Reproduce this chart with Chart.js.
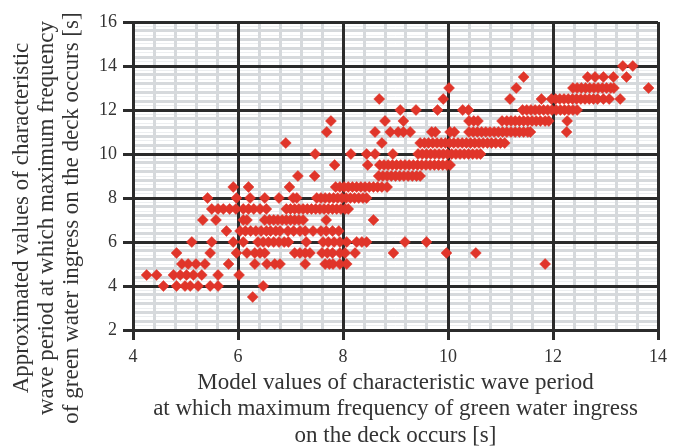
<!DOCTYPE html>
<html>
<head>
<meta charset="utf-8">
<script src="https://cdn.jsdelivr.net/npm/chart.js@4/dist/chart.umd.min.js"></script>
<style>
  html, body { margin: 0; padding: 0; background: #ffffff; }
  #wrap { width: 682px; height: 448px; position: relative; }
</style>
</head>
<body>
<div id="wrap"><canvas id="c" width="682" height="448"></canvas></div>
<script>
// ---- Data ----
// x = model value of characteristic wave period [s], grouped by approximated value (y) [s]
const approxLevels = [3.5, 4, 4.5, 5, 5.5, 6, 6.5, 7, 7.5, 8, 8.5, 9, 9.5, 10, 10.5, 11, 11.5, 12, 12.5, 13, 13.5, 14];

const modelAt3_5  = [6.28];
const modelAt4_0  = [4.58, 4.83, 4.99, 5.09, 5.24, 5.47, 5.62, 6.48];
const modelAt4_5  = [4.26, 4.45, 4.77, 4.9, 5.02, 5.15, 5.31, 5.62, 6.02];
const modelAt5_0  = [4.93, 5.05, 5.2, 5.37, 5.82, 6.32, 6.55, 6.7, 6.8, 7.28, 7.66, 7.74, 7.81, 7.94, 8.07, 11.85];
const modelAt5_5  = [4.83, 5.47, 5.97, 6.17, 6.32, 6.42, 6.51, 7.08, 7.18, 7.28, 7.37, 7.6, 7.7, 7.8, 7.94, 8.04, 8.23, 8.96, 9.97, 10.53];
const modelAt6_0  = [5.12, 5.5, 5.91, 6.1, 6.38, 6.48, 6.58, 6.68, 6.78, 6.88, 6.96, 7.3, 7.62, 7.72, 7.83, 7.94, 8.07, 8.26, 8.36, 8.45, 9.18, 9.59];
const modelAt6_5  = [5.78, 6.04, 6.14, 6.24, 6.34, 6.44, 6.54, 6.62, 6.72, 6.8, 6.95, 7.06, 7.18, 7.28, 7.43, 7.58, 7.68, 7.8, 7.92];
const modelAt7_0  = [5.33, 5.58, 6.1, 6.17, 6.51, 6.6, 6.68, 6.76, 6.84, 6.92, 7.0, 7.08, 7.16, 7.24, 7.68, 8.58];
const modelAt7_5  = [5.5, 5.62, 5.72, 5.84, 5.96, 6.1, 6.2, 6.3, 6.42, 6.54, 6.92, 7.0, 7.08, 7.16, 7.24, 7.32, 7.4, 7.48, 7.56, 7.64, 7.72, 7.8, 7.88, 7.96, 8.04, 8.1];
const modelAt8_0  = [5.42, 5.97, 6.23, 6.51, 6.78, 7.05, 7.12, 7.5, 7.58, 7.66, 7.74, 7.82, 7.9, 7.98, 8.06, 8.14, 8.22, 8.3, 8.38, 8.45];
const modelAt8_5  = [5.91, 6.2, 6.98, 7.86, 7.94, 8.02, 8.1, 8.18, 8.26, 8.34, 8.42, 8.5, 8.58, 8.66, 8.74, 8.84];
const modelAt9_0  = [7.14, 7.46, 8.68, 8.76, 8.84, 8.92, 9.0, 9.08, 9.16, 9.24, 9.32, 9.4, 9.47];
const modelAt9_5  = [7.84, 8.47, 8.7, 8.78, 8.86, 8.94, 9.02, 9.1, 9.18, 9.26, 9.34, 9.42, 9.5, 9.58, 9.66, 9.74, 9.82, 9.9, 9.98, 10.04];
const modelAt10_0 = [7.47, 8.15, 8.45, 8.61, 8.95, 9.43, 9.51, 9.59, 9.67, 9.75, 9.83, 9.91, 9.99, 10.07, 10.15, 10.23, 10.31, 10.39, 10.47, 10.55, 10.62];
const modelAt10_5 = [6.91, 8.74, 9.47, 9.55, 9.63, 9.71, 9.79, 9.87, 9.95, 10.03, 10.11, 10.19, 10.27, 10.35, 10.43, 10.51, 10.59, 10.67, 10.75, 10.83, 10.91, 11.0, 11.08];
const modelAt11_0 = [7.69, 8.61, 8.9, 9.05, 9.15, 9.28, 9.69, 9.76, 10.04, 10.12, 10.4, 10.48, 10.56, 10.64, 10.72, 10.8, 10.88, 10.96, 11.04, 11.12, 11.2, 11.28, 11.36, 11.44, 11.52, 11.57, 12.26];
const modelAt11_5 = [7.77, 8.8, 9.15, 10.4, 10.49, 10.57, 11.03, 11.12, 11.2, 11.28, 11.36, 11.44, 11.52, 11.6, 11.68, 11.76, 11.85, 11.92, 12.27];
const modelAt12_0 = [9.09, 9.39, 9.8, 10.28, 10.39, 11.42, 11.5, 11.58, 11.66, 11.74, 11.82, 11.9, 11.98, 12.06, 12.14, 12.22, 12.3, 12.38, 12.46];
const modelAt12_5 = [8.69, 9.91, 11.18, 11.78, 11.97, 12.05, 12.13, 12.21, 12.29, 12.37, 12.45, 12.53, 12.61, 12.69, 12.77, 12.85, 12.96, 13.07, 13.28];
const modelAt13_0 = [10.02, 11.3, 12.38, 12.46, 12.54, 12.62, 12.7, 12.78, 12.86, 12.94, 13.02, 13.1, 13.16, 13.82];
const modelAt13_5 = [11.44, 12.66, 12.8, 12.96, 13.15, 13.4];
const modelAt14_0 = [13.33, 13.52];

const modelByLevel = [modelAt3_5, modelAt4_0, modelAt4_5, modelAt5_0, modelAt5_5, modelAt6_0, modelAt6_5,
  modelAt7_0, modelAt7_5, modelAt8_0, modelAt8_5, modelAt9_0, modelAt9_5, modelAt10_0, modelAt10_5,
  modelAt11_0, modelAt11_5, modelAt12_0, modelAt12_5, modelAt13_0, modelAt13_5, modelAt14_0];

const xTitleLines = ['Model values of characteristic wave period',
  'at which maximum frequency of green water ingress',
  'on the deck occurs [s]'];
const yTitleLines = ['Approximated values of characteristic',
  'wave period at which maximum frequency',
  'of green water ingress on the deck occurs [s]'];

// ---- build points ----
const points = [];
approxLevels.forEach((y, i) => modelByLevel[i].forEach(x => points.push({ x: x, y: y })));

const SERIF = "'Liberation Serif', 'Times New Roman', serif";
const DARK = '#2b2b2b';
const MINOR = '#d6d9dc';
const FAINT = '#eceef0';

// places the y-axis title box (the title in the source is centred below the plot centre)
const yTitlePlacer = {
  id: 'yTitlePlacer',
  afterLayout(chart) {
    const s = chart.scales.yTitle;
    if (!s) return;
    s.left = 0; s.right = 0; s.top = 22; s.bottom = 414;
  }
};

new Chart(document.getElementById('c'), {
  type: 'scatter',
  data: {
    datasets: [{
      data: points,
      pointStyle: 'rectRot',
      pointRadius: 5.5,
      pointHoverRadius: 5.5,
      backgroundColor: '#e0352a',
      borderColor: '#e0352a',
      borderWidth: 0.5
    }]
  },
  plugins: [yTitlePlacer],
  options: {
    responsive: false,
    animation: false,
    events: [],
    layout: { padding: { left: 0, right: 24, top: 22, bottom: 0 } },
    plugins: { legend: { display: false }, tooltip: { enabled: false } },
    scales: {
      yFaint: {
        type: 'linear', axis: 'y', position: 'left', min: 2, max: 16,
        ticks: { display: false, stepSize: 0.2, maxTicksLimit: 200, autoSkip: false },
        grid: { color: FAINT, lineWidth: 1, drawTicks: false, z: -3 },
        border: { display: false },
        afterFit: s => { s.width = 0; }
      },
      xMinor: {
        type: 'linear', axis: 'x', position: 'bottom', min: 4, max: 14,
        ticks: { display: false, stepSize: 0.4, maxTicksLimit: 100, autoSkip: false },
        grid: { color: MINOR, lineWidth: 3, drawTicks: false, z: -2 },
        border: { display: false },
        afterFit: s => { s.height = 0; }
      },
      yMinor: {
        type: 'linear', axis: 'y', position: 'left', min: 2, max: 16,
        ticks: { display: false, stepSize: 0.4, maxTicksLimit: 100, autoSkip: false },
        grid: { color: MINOR, lineWidth: 3, drawTicks: false, z: -2 },
        border: { display: false },
        afterFit: s => { s.width = 0; }
      },
      yTitle: {
        type: 'linear', axis: 'y', position: 'left', min: 2, max: 16,
        ticks: { display: false },
        grid: { display: false, drawTicks: false },
        border: { display: false },
        title: {
          display: true, text: yTitleLines, color: '#333',
          font: { family: SERIF, size: 23, lineHeight: '25px' },
          padding: { top: 9.5, bottom: 0 }
        },
        afterFit: s => { s.width = 0; }
      },
      x: {
        type: 'linear', position: 'bottom', min: 4, max: 14,
        ticks: { stepSize: 2, color: '#333', font: { family: SERIF, size: 18 }, padding: 6 },
        grid: { color: DARK, lineWidth: 3, tickLength: 10, z: -1 },
        border: { display: true, color: DARK, width: 3 },
        title: {
          display: true, text: xTitleLines, color: '#333',
          font: { family: SERIF, size: 23, lineHeight: '26.5px' },
          padding: { top: 0, bottom: -1 }
        },
        afterFit: s => { s.height = 118; }
      },
      y: {
        type: 'linear', position: 'left', min: 2, max: 16,
        ticks: { stepSize: 2, color: '#333', font: { family: SERIF, size: 18 }, padding: 6 },
        grid: { color: DARK, lineWidth: 3, tickLength: 10, z: -1 },
        border: { display: true, color: DARK, width: 3 },
        afterFit: s => { s.width = 133; }
      }
    }
  }
});
</script>
</body>
</html>
